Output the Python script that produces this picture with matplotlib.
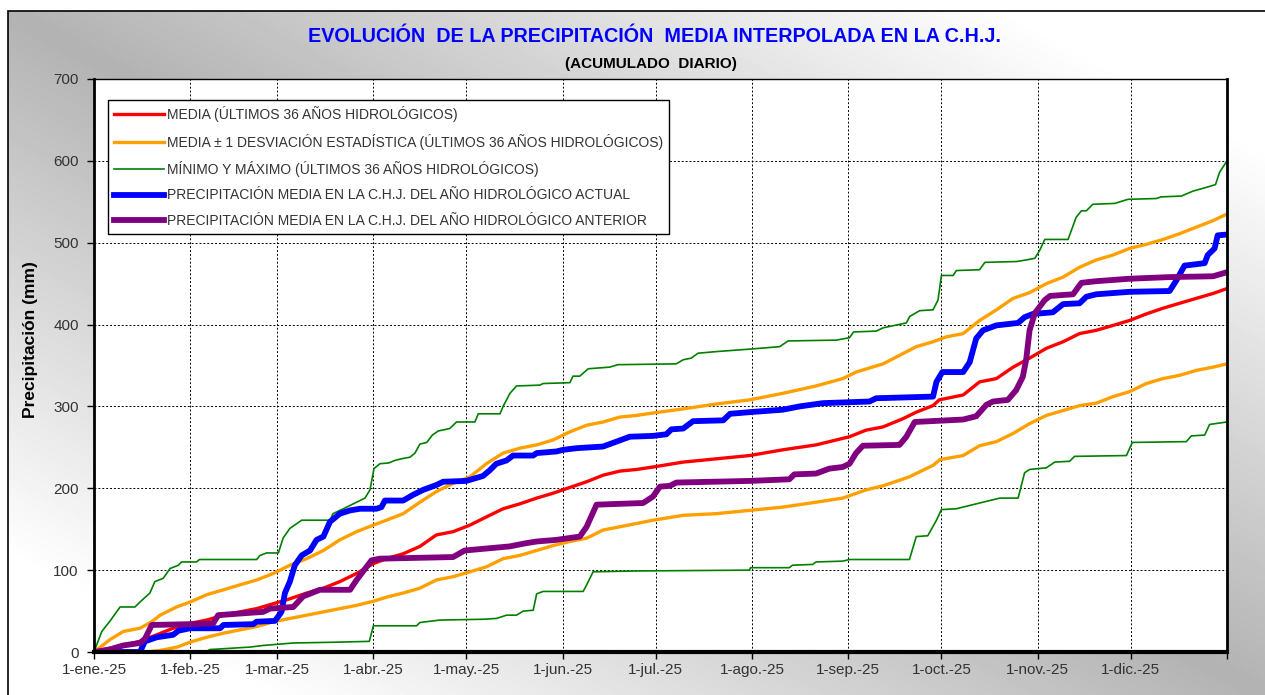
import numpy as np
import matplotlib
matplotlib.use("Agg")
import matplotlib.pyplot as plt
from matplotlib.patches import Rectangle

plt.rcParams["font.family"] = ["Liberation Sans", "DejaVu Sans"]

### Data (day of year, accumulated mm) ###
MONTH_DAYS = [0, 31, 59, 90, 120, 151, 181, 212, 243, 273, 304, 334]
MONTH_LABELS = ["1-ene.-25", "1-feb.-25", "1-mar.-25", "1-abr.-25", "1-may.-25",
                "1-jun.-25", "1-jul.-25", "1-ago.-25", "1-sep.-25", "1-oct.-25",
                "1-nov.-25", "1-dic.-25"]

max_days = [0, 2.5, 5, 8.4, 13.2, 14.8, 18, 19.6, 22.3, 24.5, 27.2, 28.2, 33, 34, 52.4, 53.5,
            55.6, 59.4, 60.9, 63.1, 66.9, 76, 77, 81.4, 84.6, 87.3, 88.9, 90.2, 92.1, 95, 96.9,
            99, 101.8, 103.4, 105, 107.2, 109, 110.9, 114.6, 116.8, 122.7, 123.8, 130.8, 131.8,
            134, 136.1, 143.6, 144.7, 153.3, 154.3, 156.5, 159.2, 166.1, 168.8, 187.6, 189.8,
            192.4, 194.6, 200.5, 211.2, 220.9, 223.6, 239.2, 243.4, 244.7, 252, 254.2, 261.7,
            262.8, 266, 270.3, 271.9, 273, 276.8, 277.8, 285.3, 287, 297.2, 300.4, 303.1, 304.7,
            306.3, 313.8, 316.4, 318.1, 319.7, 321.8, 328.8, 333.1, 342.2, 343.8, 350.3, 354,
            357.8, 361.3, 362.6, 365]
max_mm = [0, 25, 37, 55, 55, 61, 72, 86, 90, 102, 106, 110, 110, 113, 113, 118,
          121, 121, 139, 151, 161, 161, 169, 177, 183, 188, 198, 224, 230, 231, 234,
          236, 238, 243, 254, 256, 265, 270, 273, 281, 281, 291, 291, 300,
          316, 325, 326, 328, 329, 337, 337, 346, 348, 351, 352, 357,
          359, 365, 367, 370, 373, 380, 381, 384, 391, 392, 396, 402,
          410, 417, 418, 430, 460, 460, 466, 467, 476, 477, 479, 481, 491,
          504, 504, 531, 539, 539, 547, 548, 553, 554, 556, 557, 563,
          567, 571, 586, 600]

min_days = [0, 35.8, 37.4, 50.2, 54.5, 64.2, 78.2, 88.7, 90, 103.9, 105, 111.4, 125.4, 129.7,
            132.9, 136.1, 138.3, 141.5, 142.6, 144.7, 157.6, 158.7, 160.8, 174.8, 211.2, 211.5,
            224, 225, 231.5, 232.6, 241.2, 243.4, 262.7, 264.9, 268.6, 271.4, 273, 277.8, 285.3,
            291.8, 297.7, 299.8, 301.4, 306.8, 309.5, 314.3, 315.9, 332.6, 334.5, 351.9, 353.5,
            357.8, 359.4, 365]
min_mm = [0, 0, 3, 6, 8, 11, 12, 13, 32, 32, 36, 39, 40, 41,
          45, 45, 50, 51, 71, 74, 74, 82, 98, 99, 100, 103,
          103, 106, 107, 110, 111, 113, 113, 141, 142, 161, 174, 175, 182,
          188, 188, 219, 223, 225, 232, 233, 239, 240, 256, 257, 264,
          265, 278, 281]

sup_days = [0, 5.1, 9.4, 14.8, 18.6, 21.3, 26.6, 30.9, 36.3, 41.7, 47, 52.4, 57.8, 63.1, 68.5,
            73.9, 79.2, 84.6, 90, 94.2, 99.6, 105, 110.3, 115.7, 121.1, 126.4, 131.8, 137.2,
            142.6, 147.9, 153.3, 158.7, 164, 169.4, 174.8, 180.1, 189.8, 200.5, 211.2, 221.9,
            232.6, 241.2, 245.5, 254.2, 264.9, 270.3, 274.6, 280, 285.3, 290.7, 296.1, 301.4,
            306.8, 312.2, 317.5, 322.9, 328.3, 333.6, 339, 344.4, 349.7, 355.1, 360.5, 365]
sup_mm = [0, 15, 25, 29, 37, 45, 55, 61, 70, 76, 82, 88, 96, 106, 114,
          124, 137, 147, 155, 161, 169, 183, 196, 206, 214, 230, 243, 249,
          253, 259, 269, 277, 281, 287, 289, 292, 297, 303, 308, 316,
          325, 334, 342, 352, 373, 379, 385, 389, 405, 418, 432, 439,
          450, 458, 470, 479, 485, 493, 498, 504, 511, 519, 527, 535]

inf_days = [0, 17, 21.5, 26.8, 30.9, 36.3, 41.7, 47, 52.4, 57.8, 63.1, 68.5, 73.9, 79.2, 84.6,
            90, 94.2, 99.6, 105, 110.3, 115.7, 121.1, 126.4, 131.8, 137.2, 142.6, 147.9, 153.3,
            158.7, 164, 169.4, 174.8, 180.1, 189.8, 200.5, 211.2, 221.9, 232.6, 241.2, 248.7,
            254.2, 262.7, 267, 270.3, 272.5, 280, 285.3, 290.7, 296.1, 301.4, 306.8, 312.2,
            317.5, 322.9, 328.3, 333.6, 339, 344.4, 349.7, 355.1, 360.5, 365]
inf_mm = [0, 0, 2, 6, 12, 18, 23, 27, 31, 37, 41, 45, 49, 53, 57,
          62, 67, 72, 78, 88, 92, 98, 104, 114, 118, 124, 130, 135,
          139, 149, 153, 157, 161, 167, 169, 173, 177, 183, 188, 198,
          203, 214, 222, 228, 235, 240, 252, 257, 267, 279, 289, 295,
          301, 304, 312, 318, 328, 334, 338, 344, 348, 352]

media_days = [0, 4.1, 9.4, 14.8, 20.2, 25.5, 30.9, 36.3, 41.7, 47, 52.4, 57.8, 63.1, 68.5, 73.9,
              79.2, 84.6, 90, 94.2, 99.6, 105, 110.3, 115.7, 121.1, 126.4, 131.8, 137.2, 142.6,
              147.9, 153.3, 158.7, 164, 169.4, 174.8, 180.1, 189.8, 200.5, 211.2, 221.9, 232.6,
              243.4, 248.7, 254.2, 260.6, 264.9, 270.3, 272.3, 280, 285.3, 290.7, 296.1, 301.4,
              306.8, 312.2, 317.5, 322.9, 328.3, 333.6, 339, 344.4, 349.7, 355.1, 360.5, 365]
media_mm = [0, 4, 8, 13, 21, 29, 35, 39, 45, 49, 53, 59, 65, 72, 78,
            86, 96, 108, 114, 120, 129, 143, 147, 155, 165, 175, 181, 188,
            194, 201, 208, 216, 221, 223, 226, 232, 236, 240, 247, 253,
            263, 271, 275, 285, 293, 301, 308, 314, 330, 334, 348, 359,
            371, 379, 389, 393, 399, 405, 413, 420, 426, 432, 438, 444]

actual_days = [0, 14.8, 16.4, 20.2, 25.5, 27.2, 30.9, 40.6, 41.7, 51.3, 52.4, 58.3, 60.4, 61.5,
               63.1, 64.7, 66.9, 69.6, 71.7, 73.9, 76, 79.2, 82.5, 85.7, 91, 92.6, 93.7, 99.6,
               102.8, 106, 110.3, 112.5, 119.9, 125.3, 127.5, 129.6, 132.9, 135, 141.5, 142.6,
               149, 151.2, 155.5, 164, 168.3, 172.6, 180.1, 184.4, 186, 189.8, 193, 202.7, 204.9,
               211.2, 221.9, 227.3, 234.8, 249.8, 252, 270.3, 271.4, 273.3, 280, 282.1, 284.2,
               286.4, 290.7, 297.7, 299.8, 302.5, 308.9, 312.2, 317.5, 319.7, 322.9, 333.6,
               346.5, 348.7, 351.3, 357.8, 358.8, 361, 362, 365]
actual_mm = [0, 0, 13, 18, 21, 26, 29, 29, 33, 34, 37, 38, 49, 72,
             86, 106, 118, 124, 137, 141, 159, 169, 173, 175, 175, 177, 185, 185,
             192, 198, 204, 208, 209, 215, 222, 230, 234, 240, 240, 243,
             245, 247, 249, 251, 257, 263, 264, 266, 272, 273, 282, 283, 291,
             293, 296, 300, 304, 306, 310, 312, 330, 342, 342, 354, 383,
             393, 399, 402, 409, 413, 415, 425, 426, 434, 437, 440,
             441, 454, 472, 475, 485, 493, 509, 510]

prev_days = [0, 5.1, 9.4, 14.8, 16.4, 18.6, 30.9, 38.4, 40, 47, 54.5, 56.7, 64.2, 67.4, 72.8,
             82.5, 84.6, 89.4, 92.1, 115.7, 119.4, 133.9, 139.3, 142.6, 149, 156.5, 158.7, 161.9,
             176.9, 180.1, 182.3, 185.5, 187.6, 211.2, 224, 225.6, 232.6, 236.9, 241.2, 243.4,
             245.5, 247.7, 259.5, 261.7, 264.4, 280, 284.2, 287.5, 289.6, 294.4, 297.1, 299.2,
             300.3, 301.4, 303.1, 306.3, 308, 315.4, 318.1, 322.9, 333.6, 346.5, 360.5, 365]
prev_mm = [0, 3, 8, 11, 16, 33, 34, 35, 45, 47, 49, 53, 55, 68, 76,
           76, 88, 112, 114, 116, 124, 129, 133, 135, 137, 141, 153, 180,
           182, 190, 202, 203, 207, 209, 211, 217, 218, 224, 226, 230,
           243, 252, 253, 263, 281, 284, 288, 302, 306, 308, 320, 336,
           357, 393, 414, 430, 435, 437, 451, 453, 456, 458, 459, 464]

W, H = 1265, 695
fig = plt.figure(figsize=(W / 100, H / 100), dpi=100, facecolor="white")

# gradient background inside the outer frame
bg = fig.add_axes([8 / W, 0, 1 - 8 / W, 1 - 11 / H], zorder=-10)
yy, xx = np.mgrid[0:1:200j, 0:1:400j]
u = np.abs(xx - yy)
shade = 0.70 + 0.30 * np.clip(u * 1.25, 0, 1)
bg.imshow(shade, cmap="gray", vmin=0, vmax=1, aspect="auto", extent=[0, 1, 0, 1],
          origin="upper", interpolation="bilinear")
bg.set_axis_off()
fig.patches.append(Rectangle((8 / W, -0.01), 1.0, 1 - 11 / H + 0.01, fill=False,
                             edgecolor="black", lw=1.2, transform=fig.transFigure))

ax = fig.add_axes([94 / W, 1 - 652 / H, (1227 - 94) / W, (652 - 79) / H])
ax.set_facecolor("white")

ax.plot(max_days, max_mm, color="#008000", lw=1.2, label="MÍNIMO Y MÁXIMO (ÚLTIMOS 36 AÑOS HIDROLÓGICOS)")
ax.plot(min_days, min_mm, color="#008000", lw=1.2)
ax.plot(sup_days, sup_mm, color="#FFA000", lw=2.4, label="MEDIA ± 1 DESVIACIÓN ESTADÍSTICA (ÚLTIMOS 36 AÑOS HIDROLÓGICOS)")
ax.plot(inf_days, inf_mm, color="#FFA000", lw=2.4)
ax.plot(media_days, media_mm, color="#FF0000", lw=2.4, label="MEDIA (ÚLTIMOS 36 AÑOS HIDROLÓGICOS)")
ax.plot(actual_days, actual_mm, color="#0000FF", lw=4.2, solid_joinstyle="round",
        label="PRECIPITACIÓN MEDIA EN LA C.H.J. DEL AÑO HIDROLÓGICO ACTUAL")
ax.plot(prev_days, prev_mm, color="#800080", lw=4.2, solid_joinstyle="round",
        label="PRECIPITACIÓN MEDIA EN LA C.H.J. DEL AÑO HIDROLÓGICO ANTERIOR")

ax.set_xlim(0, 365)
ax.set_ylim(0, 700)
ax.set_xticks(MONTH_DAYS + [365])
ax.set_xticklabels(MONTH_LABELS + [""])
ax.set_yticks(range(0, 701, 100))
ax.tick_params(axis="both", direction="out", length=5, width=1, labelsize=11,
               labelcolor="#333333", color="black")
ax.tick_params(axis="y", pad=6)
ax.tick_params(axis="x", pad=3)
ax.grid(True, color="black", linestyle=(0, (2, 2)), lw=0.7)
ax.set_axisbelow(True)
for side, lw in [("left", 2), ("bottom", 3), ("right", 2), ("top", 1)]:
    ax.spines[side].set_linewidth(lw)
    ax.spines[side].set_color("black")
ax.set_ylabel("Precipitación (mm)", fontsize=12.5, fontweight="bold")
ax.yaxis.set_label_coords(-0.049, 0.545)

# legend in the original order
handles, labels = ax.get_legend_handles_labels()
order = [2, 1, 0, 3, 4]
leg = ax.legend([handles[i] for i in order], [labels[i] for i in order],
                loc="upper left", bbox_to_anchor=(14 / 1133, 552 / 573), borderaxespad=0,
                fontsize=10, handlelength=3.6, handletextpad=0.2, labelspacing=0.82,
                fancybox=False, edgecolor="black", framealpha=1, borderpad=0.45)
leg.get_frame().set_linewidth(1)
for t in leg.get_texts():
    t.set_color("#333333")

fig.text(654 / W, 1 - 37 / H, "EVOLUCIÓN  DE LA PRECIPITACIÓN  MEDIA INTERPOLADA EN LA C.H.J.",
         ha="center", va="center", color="#0000FF", fontsize=14.2, fontweight="bold")
fig.text(651 / W, 1 - 64 / H, "(ACUMULADO  DIARIO)", ha="center", va="center",
         color="black", fontsize=11, fontweight="bold")

fig.savefig("out.png", dpi=100)
